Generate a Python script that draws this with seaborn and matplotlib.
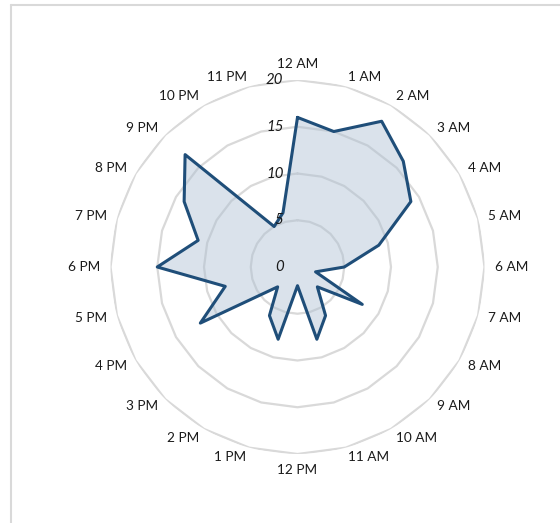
import numpy as np
import pandas as pd
import seaborn as sns
import matplotlib
matplotlib.use("Agg")
import matplotlib.pyplot as plt
from matplotlib.lines import Line2D
from matplotlib.transforms import offset_copy

# Hourly counts around the clock
hours = ["12 AM", "1 AM", "2 AM", "3 AM", "4 AM", "5 AM", "6 AM", "7 AM",
         "8 AM", "9 AM", "10 AM", "11 AM", "12 PM", "1 PM", "2 PM", "3 PM",
         "4 PM", "5 PM", "6 PM", "7 PM", "8 PM", "9 PM", "10 PM", "11 PM"]
counts = [16, 15, 18, 16, 14, 9, 5, 2, 8, 3, 6, 8,
          2, 8, 6, 3, 12, 8, 15, 11, 14, 17, 5, 6]
ring_values = [0, 5, 10, 15, 20]

sns.set_theme(style="white")
plt.rcParams["font.family"] = ["Lato", "DejaVu Sans"]

W, H = 560, 523
fig = plt.figure(figsize=(W / 100, H / 100), dpi=100)

cx, cy, rad = 297.5, 267.0, 187.0
ax = fig.add_axes([(cx - rad) / W, (H - cy - rad) / H, 2 * rad / W, 2 * rad / H],
                  projection="polar")
ax.set_theta_zero_location("N")
ax.set_theta_direction(-1)
ax.set_ylim(0, 20)
ax.grid(False)
ax.spines["polar"].set_visible(False)
ax.set_xticks([])
ax.set_yticks([])
ax.patch.set_alpha(0)

n = len(hours)
theta = np.arange(n) * 2 * np.pi / n
theta_closed = np.append(theta, 2 * np.pi)

# Polygonal grid rings
grid_color = "#d9d9d9"
for rv in ring_values[1:]:
    ax.plot(theta_closed, [rv] * (n + 1), color=grid_color, lw=1.6, zorder=1)

# Data polygon
df = pd.DataFrame({"theta": theta_closed,
                   "count": np.append(counts, counts[0])})
ax.fill(df["theta"], df["count"], color="#adc0d3", alpha=0.45, zorder=2, lw=0)
sns.lineplot(data=df, x="theta", y="count", sort=False, ax=ax,
             color="#1f4e79", lw=2.2, zorder=3)
ax.set_xlabel("")
ax.set_ylabel("")

# Category labels
lab_r = 21.07
for t, lab in zip(theta, hours):
    deg = np.degrees(t) % 360
    if np.isclose(deg, 0):
        ha, va = "center", "bottom"
    elif np.isclose(deg, 180):
        ha, va = "center", "top"
    elif deg < 180:
        ha, va = "left", "center"
    else:
        ha, va = "right", "center"
    ax.text(t, lab_r, lab, ha=ha, va=va, fontsize=9.8, color="#1a1a1a",
            clip_on=False)

# Radial value labels
tr = offset_copy(ax.transData, fig=fig, x=-14, y=0, units="dots")
for rv in ring_values:
    ax.text(0, rv, str(rv), transform=tr, ha="right", va="center",
            fontsize=10.8, fontstyle="italic", color="#1a1a1a", clip_on=False)

# Chart frame edges
fig.add_artist(Line2D([11 / W, 1.0], [1 - 5 / H, 1 - 5 / H],
                      transform=fig.transFigure, color=grid_color, lw=1.5))
fig.add_artist(Line2D([11 / W, 11 / W], [0, 1 - 5 / H],
                      transform=fig.transFigure, color=grid_color, lw=1.5))

fig.savefig("out.png", dpi=100, facecolor="white")
